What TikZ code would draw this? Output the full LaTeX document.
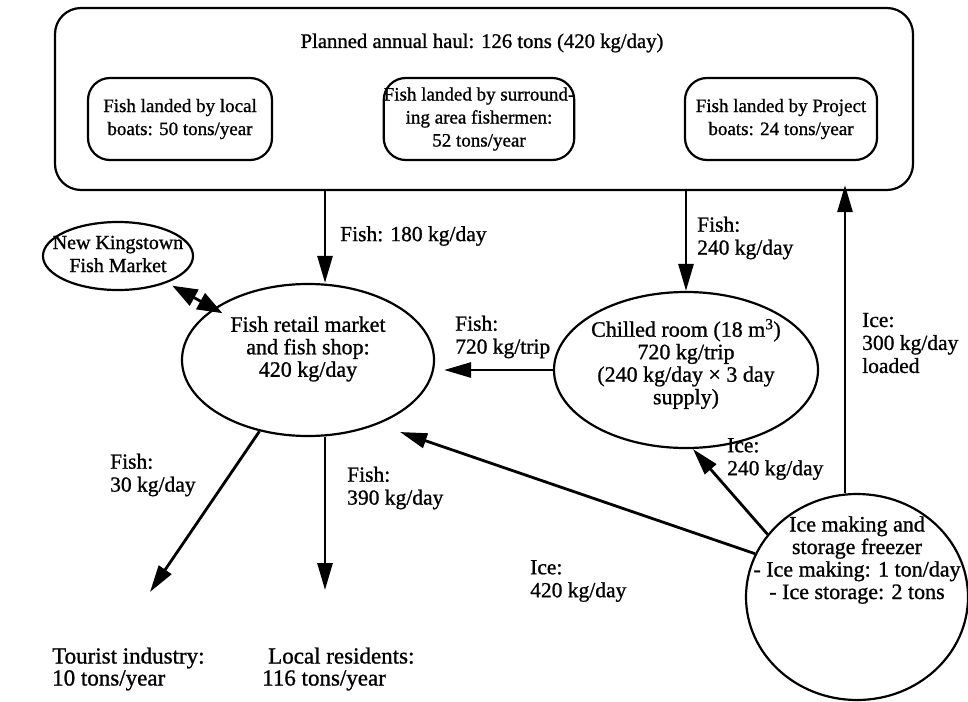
\documentclass[tikz,border=0pt]{standalone}
\usepackage{fontspec}
\setmainfont{Liberation Serif}[FakeBold=1.0]
\usetikzlibrary{arrows.meta,shapes.geometric}
\begin{document}
\begin{tikzpicture}[x=1pt,y=-1pt,
  every node/.style={font=\fontsize{21.5}{23}\selectfont, align=center},
  titlefont/.style={font=\fontsize{20.7}{23}\selectfont},
  boxfont/.style={font=\fontsize{19}{23}\selectfont},
  ovalfont/.style={font=\fontsize{22}{22.5}\selectfont},
  endfont/.style={font=\fontsize{23}{22}\selectfont},
  bigbox/.style={draw, line width=2.2pt, rounded corners=26pt, inner sep=0pt},
  subbox/.style={draw, line width=2.2pt, rounded corners=22pt, inner sep=0pt, boxfont},
  oval/.style={draw, ellipse, line width=2.2pt, inner sep=0pt},
  txt/.style={inner sep=0pt},
  lbl/.style={align=left, anchor=west, inner sep=0pt},
  arr/.style={line width=2.8pt, -{Triangle[length=27pt,width=15pt]}},
  darr/.style={line width=2.8pt, {Triangle[length=25pt,width=18pt]}-{Triangle[length=25pt,width=18pt]}},
]
\useasboundingbox (0,0) rectangle (968,701);
% top box
\node[bigbox, minimum width=858pt, minimum height=182pt] (haul) at (484,99) {};
\node[txt, titlefont] (title) at (482,43) {Planned annual haul: 126 tons (420 kg/day)};
\node[subbox, minimum width=184pt, minimum height=82pt] (b1) at (180,119) {Fish landed by local\\boats: 50 tons/year};
\node[subbox, minimum width=182pt, minimum height=82pt] (b2) at (479,119) {Fish landed by surround-\\ing area fishermen:\\52 tons/year};
\node[subbox, minimum width=192pt, minimum height=82pt] (b3) at (781,119) {Fish landed by Project\\boats: 24 tons/year};
% ellipses
\node[oval, minimum width=150pt, minimum height=68pt] (nk) at (118,256) {};
\node[txt, font=\fontsize{20}{23}\selectfont] (nktxt) at (118,254) {New Kingstown\\Fish Market};
\node[oval, minimum width=252pt, minimum height=152pt] (retail) at (308,360) {};
\node[txt, ovalfont] (retailtxt) at (308,349) {Fish retail market\\and fish shop:\\420 kg/day};
\node[oval, minimum width=264pt, minimum height=156pt] (chilled) at (686,370) {};
\node[txt, ovalfont] (chilledtxt) at (686,364) {Chilled room (18 m\textsuperscript{3})\\720 kg/trip\\(240 kg/day × 3 day\\supply)};
\node[oval, minimum width=222pt, minimum height=206pt] (ice) at (857,597) {};
\node[txt, ovalfont] (icetxt) at (857,560) {Ice making and\\storage freezer\\- Ice making: 1 ton/day\\- Ice storage: 2 tons};
% end texts
\node[txt, endfont, align=left, anchor=west] (tourist) at (52,669) {Tourist industry:\\10 tons/year};
\node[txt, endfont, align=left, anchor=west] (local) at (262,669) {\hspace*{6pt}Local residents:\\116 tons/year};
% helper coordinates
\coordinate (xa) at (325,0);
\coordinate (xi) at (845,0);
\coordinate (tipT) at (150,592);
\coordinate (tipL) at (325,590);
\coordinate (tip420) at (400,432);
% connectors
\draw[arr] (haul.south -| xa) -- (retail.north -| xa);
\draw[arr] (haul.south -| chilled) -- (chilled.north);
\draw[arr] (ice.north -| xi) -- ([yshift=6pt]haul.south -| xi);
\draw[arr, shorten >=9pt] (chilled.west) -- (chilled.west -| retail.east);
\draw[darr, shorten <=6pt, shorten >=-10pt] (nk) -- (retail);
\draw[arr] (retail) -- (tipT);
\draw[arr] (retail.south -| xa) -- (tipL);
\draw[arr] (ice.157) -- (tip420);
\draw[arr] (ice.145) -- (chilled.-85);
% labels
\node[lbl] (l180) at (340,236) {Fish: 180 kg/day};
\node[lbl] (l240) at (697,238) {Fish:\\240 kg/day};
\node[lbl] (l720) at (455,337) {Fish:\\720 kg/trip};
\node[lbl] (l300) at (862,343) {Ice:\\300 kg/day\\loaded};
\node[lbl] (li240) at (727,459) {Ice:\\240 kg/day};
\node[lbl] (l420) at (530,581) {Ice:\\420 kg/day};
\node[lbl] (l30) at (110,475) {Fish:\\30 kg/day};
\node[lbl] (l390) at (347,488) {Fish:\\390 kg/day};
\end{tikzpicture}
\end{document}
